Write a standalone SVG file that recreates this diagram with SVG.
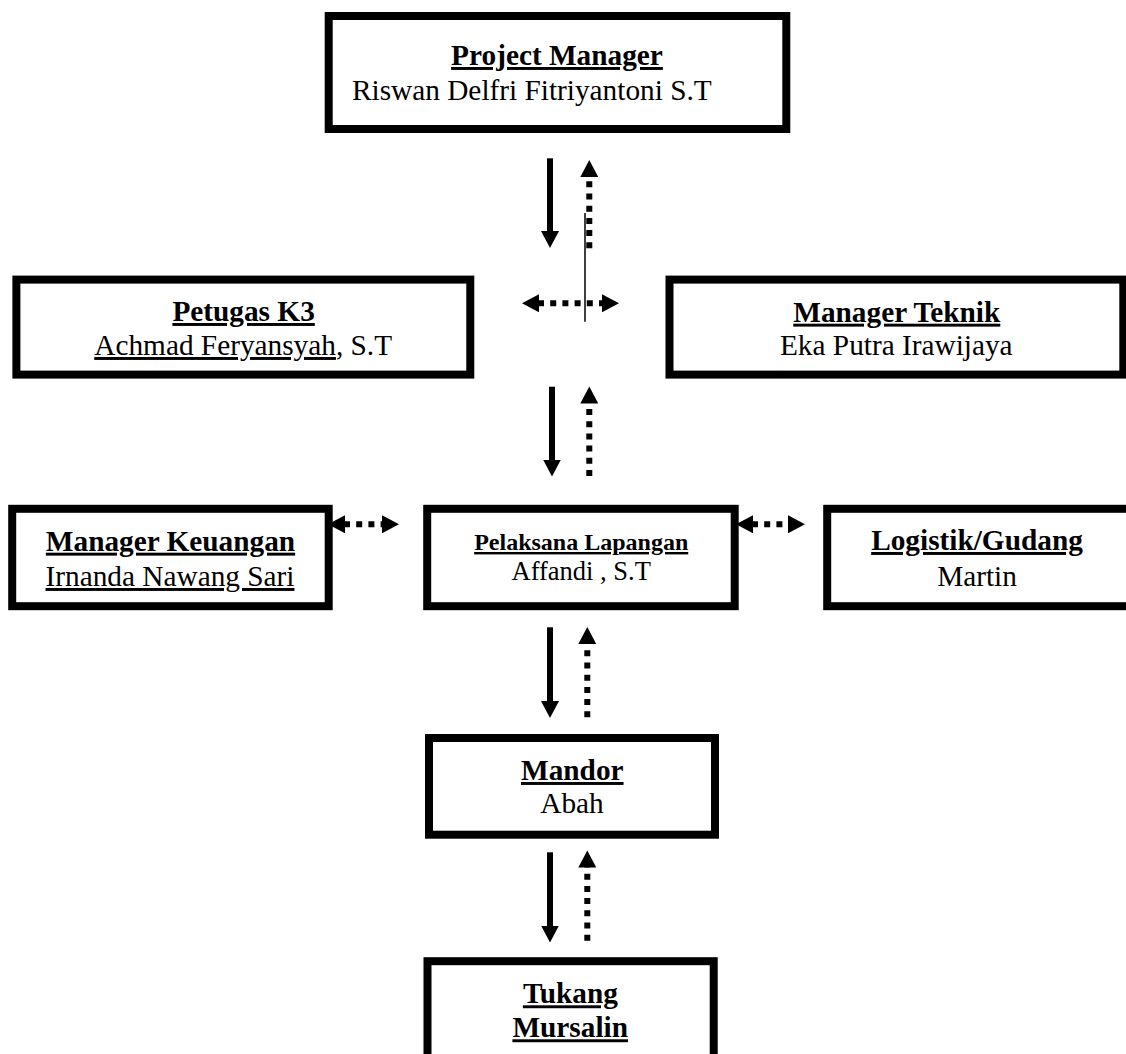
<svg xmlns="http://www.w3.org/2000/svg" width="1126" height="1054" viewBox="0 0 1126 1054">
<style>
.box{fill:#fff;stroke:#000;stroke-width:8}
.t{font-family:"Liberation Serif","Times New Roman",serif;fill:#000}
.b{font-weight:bold;text-decoration:underline}
.s22{font-size:29.3px}
.u{text-decoration:underline}
.solid{stroke:#000;stroke-width:6;fill:none}
.dot{stroke:#000;stroke-width:6;fill:none;stroke-dasharray:6 6.2}
.thin{stroke:#000;stroke-width:1.5;fill:none}
</style>
<defs>
<marker id="ah" markerUnits="userSpaceOnUse" markerWidth="18" markerHeight="18" refX="1" refY="9" orient="auto-start-reverse" viewBox="0 0 18 18">
<path d="M0,0 L17,9 L0,18 z" fill="#000"/>
</marker>
</defs>
<rect width="1126" height="1054" fill="#fff"/>
<g id="connectors">
<line class="solid" x1="550" y1="158.3" x2="550" y2="232" marker-end="url(#ah)"/>
<line class="dot" x1="589.3" y1="248.3" x2="589.3" y2="176" marker-end="url(#ah)"/>
<line class="thin" x1="585" y1="213" x2="585" y2="321.7"/>
<line class="dot" x1="538" y1="303.3" x2="603" y2="303.3" marker-start="url(#ah)" marker-end="url(#ah)"/>
<line class="solid" x1="552" y1="386.7" x2="552" y2="460.5" marker-end="url(#ah)"/>
<line class="dot" x1="589.3" y1="476" x2="589.3" y2="402.5" marker-end="url(#ah)"/>
<line class="dot" x1="344" y1="524.3" x2="383" y2="524.3" marker-start="url(#ah)" marker-end="url(#ah)"/>
<line class="dot" x1="752" y1="524.3" x2="789" y2="524.3" marker-start="url(#ah)" marker-end="url(#ah)"/>
<line class="solid" x1="550" y1="627.3" x2="550" y2="702" marker-end="url(#ah)"/>
<line class="dot" x1="587.3" y1="717.3" x2="587.3" y2="643" marker-end="url(#ah)"/>
<line class="solid" x1="550" y1="852.3" x2="550" y2="926.5" marker-end="url(#ah)"/>
<line class="dot" x1="587.3" y1="940.7" x2="587.3" y2="866.5" marker-end="url(#ah)"/>
</g>
<g id="project-manager">
<rect class="box" x="328.7" y="16" width="457.6" height="113"/>
<text class="t s22 b" x="557" y="65" text-anchor="middle">Project Manager</text>
<text class="t s22" x="352" y="100">Riswan Delfri Fitriyantoni S.T</text>
</g>
<g id="petugas-k3">
<rect class="box" x="16.4" y="279.6" width="453.9" height="95"/>
<text class="t s22 b" x="243.6" y="321" text-anchor="middle">Petugas K3</text>
<text class="t s22" x="243.2" y="355" text-anchor="middle"><tspan class="u">Achmad Feryansyah</tspan>, S.T</text>
</g>
<g id="manager-teknik">
<rect class="box" x="669.5" y="279.6" width="453.8" height="95"/>
<text class="t s22 b" x="896.8" y="321.7" text-anchor="middle">Manager Teknik</text>
<text class="t s22" x="896.3" y="355" text-anchor="middle">Eka Putra Irawijaya</text>
</g>
<g id="manager-keuangan">
<rect class="box" x="12.2" y="508.8" width="316.5" height="97.4"/>
<text class="t s22 b" x="170.5" y="550.7" text-anchor="middle">Manager Keuangan</text>
<text class="t s22 u" x="170" y="586" text-anchor="middle">Irnanda Nawang Sari</text>
</g>
<g id="pelaksana-lapangan">
<rect class="box" x="427.2" y="508.8" width="307.5" height="97.4"/>
<text class="t b" x="581.2" y="550" text-anchor="middle" font-size="24">Pelaksana Lapangan</text>
<text class="t" x="581.2" y="580" text-anchor="middle" font-size="26.5">Affandi , S.T</text>
</g>
<g id="logistik-gudang">
<rect class="box" x="827.2" y="508.8" width="312" height="97.4"/>
<text class="t s22 b" x="977" y="550" text-anchor="middle">Logistik/Gudang</text>
<text class="t s22" x="977" y="586" text-anchor="middle">Martin</text>
</g>
<g id="mandor">
<rect class="box" x="429" y="738" width="286" height="96.7"/>
<text class="t s22 b" x="572.3" y="780" text-anchor="middle">Mandor</text>
<text class="t s22" x="572" y="812.7" text-anchor="middle">Abah</text>
</g>
<g id="tukang">
<rect class="box" x="427.5" y="961.2" width="286.2" height="130"/>
<text class="t s22 b" x="570.4" y="1003.3" text-anchor="middle">Tukang</text>
<text class="t s22 b" x="570.2" y="1037.3" text-anchor="middle">Mursalin</text>
</g>
</svg>
